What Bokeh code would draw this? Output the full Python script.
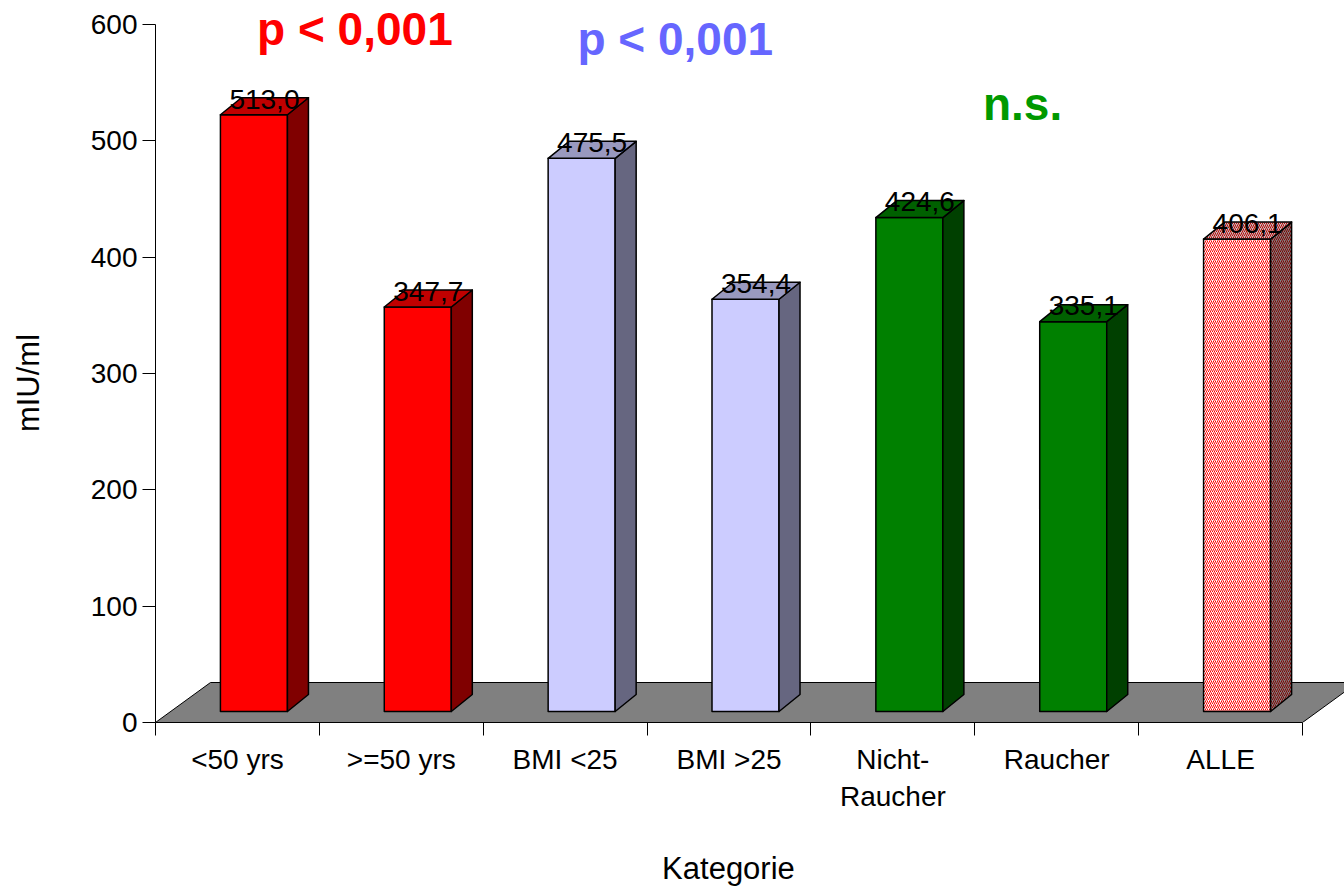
from bokeh.plotting import figure
from bokeh.models import (ColumnDataSource, Range1d, LinearAxis, FixedTicker,
                          CustomJSTickFormatter)
from bokeh.core.properties import value
from bokeh.embed import file_html
from bokeh.resources import INLINE

# ---- data -------------------------------------------------------------
categories = ["<50 yrs", ">=50 yrs", "BMI <25", "BMI >25",
              "Nicht-\nRaucher", "Raucher", "ALLE"]
values = [513.0, 347.7, 475.5, 354.4, 424.6, 335.1, 406.1]
y_ticks = [0, 100, 200, 300, 400, 500, 600]

front_colors = ["#FF0000", "#FF0000", "#CCCCFF", "#CCCCFF",
                "#008000", "#008000", "#FFFFFF"]
side_colors = ["#800000", "#800000", "#666680", "#666680",
               "#004000", "#004000", "#808080"]
top_colors = ["#C00000", "#C00000", "#9999BF", "#9999BF",
              "#006000", "#006000", "#C0C0C0"]
hatch_colors = ["#000000"] * 6 + ["#FF0000"]
side_hatch = ["#000000"] * 6 + ["#800000"]
top_hatch = ["#000000"] * 6 + ["#C00000"]
patterns = [" "] * 6 + ["right_diagonal_line"]

notes = ["p < 0,001", "p < 0,001", "n.s."]
note_colors = ["#FF0000", "#6666FF", "#009900"]
note_x = [0.62, 2.575, 5.05]
note_y = [596.0, 587.5, 531.5]

FONT = "Liberation Sans"
PAD = "\u00a0" * 5   # trailing no-break spaces nudge the centred axis titles

# pixel scale of the plotting frame
PX_X = 163.86     # pixels per category slot
PX_Y = 1.1633     # pixels per mIU/ml

# ---- 3d geometry (in data units) ---------------------------------------
FLOOR_DX, FLOOR_DY = 55 / PX_X, 40 / PX_Y   # depth of the floor plate
BAR_W = 0.409                                # width of a bar's front face
BAR_SHIFT = 0.1007                           # front face pushed into the floor
BAR_BASE = 11 / PX_Y                         # front face starts above floor edge
BAR_DX, BAR_DY = 21 / PX_X, 17 / PX_Y        # depth of a bar

n = len(categories)

fx, fy, sx, sy, tx, ty = [], [], [], [], [], []
lab_x, lab_y, lab_t = [], [], []
for i, v in enumerate(values):
    xl = i + 0.5 - BAR_W / 2 + BAR_SHIFT
    xr = xl + BAR_W
    y0 = BAR_BASE
    y1 = BAR_BASE + v
    fx.append([xl, xr, xr, xl]); fy.append([y0, y0, y1, y1])
    sx.append([xr, xr + BAR_DX, xr + BAR_DX, xr])
    sy.append([y0, y0 + BAR_DY, y1 + BAR_DY, y1])
    tx.append([xl, xr, xr + BAR_DX, xl + BAR_DX])
    ty.append([y1, y1, y1 + BAR_DY, y1 + BAR_DY])
    lab_x.append(i + 0.5 + BAR_SHIFT + BAR_DX / 2)
    lab_y.append(y1 + 13.5)
    lab_t.append(f"{v:.1f}".replace(".", ","))

front = ColumnDataSource(dict(xs=fx, ys=fy, fill=front_colors,
                              hatch=hatch_colors, pat=patterns))
side = ColumnDataSource(dict(xs=sx, ys=sy, fill=side_colors,
                             hatch=side_hatch, pat=patterns))
top = ColumnDataSource(dict(xs=tx, ys=ty, fill=top_colors,
                            hatch=top_hatch, pat=patterns))

# ---- figure -----------------------------------------------------------
p = figure(width=1344, height=888, output_backend="svg", toolbar_location=None,
           x_axis_type=None, y_axis_type=None,
           x_range=Range1d(0, 1189 / PX_X), y_range=Range1d(0, 722 / PX_Y),
           min_border_left=155, min_border_right=0, min_border_top=0,
           min_border_bottom=166)
p.outline_line_color = None
p.grid.visible = False
p.background_fill_color = "white"

# floor plate
p.patch([0, n, n + FLOOR_DX, FLOOR_DX], [0, 0, FLOOR_DY, FLOOR_DY],
        fill_color="#808080", line_color="black", line_width=1)

common = dict(xs="xs", ys="ys", fill_color="fill", line_color="black",
              line_width=1.5, line_join="round", hatch_pattern="pat",
              hatch_color="hatch", hatch_scale=4, hatch_weight=1.0)
p.patches(source=front, **common)
p.patches(source=side, **common)
p.patches(source=top, **common)

# value labels
p.text(lab_x, lab_y, text=lab_t, text_align="center",
       text_baseline="alphabetic", text_font=value(FONT),
       text_font_size="28px", text_color="black")

# significance notes
p.text(note_x, note_y, text=notes, text_color=note_colors, text_align="left",
       text_baseline="alphabetic", text_font=value(FONT),
       text_font_style="bold", text_font_size="46px")

# ---- axes --------------------------------------------------------------
yaxis = LinearAxis(ticker=FixedTicker(ticks=y_ticks), bounds=(0, 600),
                   axis_label="mIU/ml" + PAD)
yaxis.major_tick_out = 13
yaxis.major_tick_in = 0
yaxis.minor_tick_out = 0
yaxis.minor_tick_in = 0
yaxis.major_label_standoff = 5
yaxis.axis_label_standoff = 42
yaxis.major_label_text_font = FONT
yaxis.major_label_text_font_size = "28px"
yaxis.major_label_text_color = "black"
yaxis.axis_label_text_font = FONT
yaxis.axis_label_text_font_size = "31px"
yaxis.axis_label_text_font_style = "normal"
yaxis.axis_label_text_color = "black"
yaxis.axis_line_color = "black"
yaxis.major_tick_line_color = "black"
p.add_layout(yaxis, "left")

xaxis = LinearAxis(ticker=FixedTicker(ticks=[i + 0.5 for i in range(n)],
                                      minor_ticks=list(range(n + 1))),
                   bounds=(0, n), axis_label="Kategorie" + PAD)
xaxis.formatter = CustomJSTickFormatter(args=dict(labels=categories),
                                        code="return labels[Math.floor(tick)];")
xaxis.major_tick_out = 0
xaxis.major_tick_in = 0
xaxis.minor_tick_out = 13
xaxis.minor_tick_in = 0
xaxis.major_label_standoff = 8
xaxis.axis_label_standoff = 36
xaxis.major_label_text_font = FONT
xaxis.major_label_text_font_size = "28px"
xaxis.major_label_text_color = "black"
xaxis.axis_label_text_font = FONT
xaxis.axis_label_text_font_size = "31px"
xaxis.axis_label_text_font_style = "normal"
xaxis.axis_label_text_color = "black"
xaxis.axis_line_color = "black"
xaxis.minor_tick_line_color = "black"
p.add_layout(xaxis, "below")

open("out.html", "w").write(file_html(p, INLINE))
